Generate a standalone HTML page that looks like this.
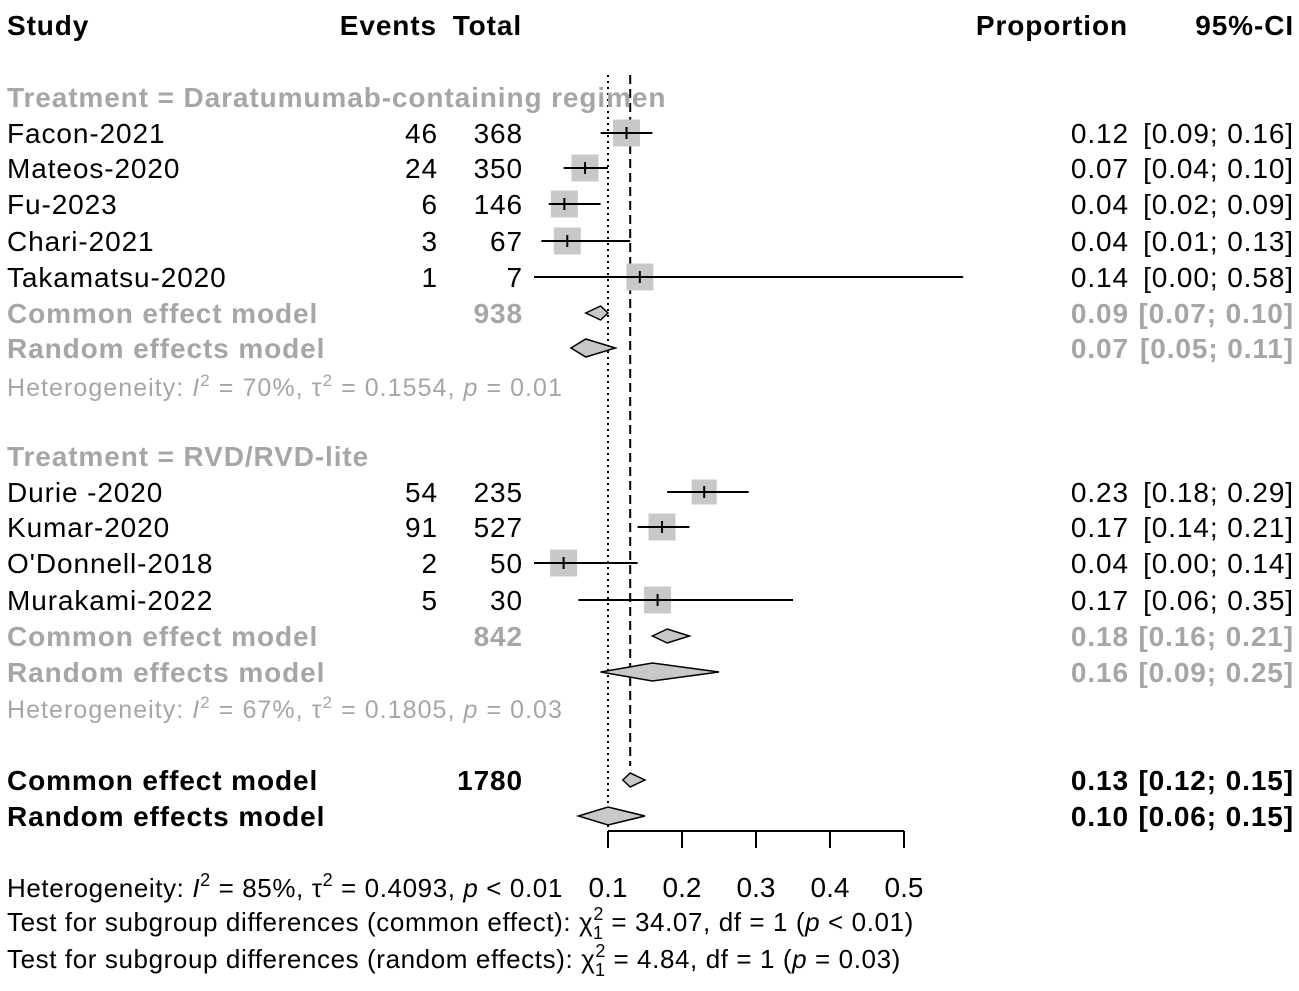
<!DOCTYPE html>
<html><head><meta charset="utf-8"><style>
body{margin:0;background:#fff}
svg{display:block;font-family:"Liberation Sans",Arial,sans-serif}
</style></head><body>
<svg width="1299" height="991" viewBox="0 0 1299 991">
<g id="hdr" font-size="28" font-weight="bold" fill="#000" letter-spacing="0.9">
<text x="7" y="35">Study</text>
<text x="437" y="35" text-anchor="end">Events</text>
<text x="522" y="35" text-anchor="end">Total</text>
<text x="1128" y="35" text-anchor="end">Proportion</text>
<text x="1294" y="35" text-anchor="end">95%-CI</text>
</g>
<g id="lines"></g>
<g id="marks"></g>
<g id="txt" letter-spacing="0.9"></g>
<g id="axis"></g>
<g font-size="26" fill="#000" letter-spacing="0.6">
<text x="7" y="897">Heterogeneity: <tspan font-style="italic">I</tspan><tspan dy="-11" font-size="18">2</tspan><tspan dy="11"> = 85%, τ</tspan><tspan dy="-11" font-size="18">2</tspan><tspan dy="11"> = 0.4093, </tspan><tspan font-style="italic">p</tspan> &lt; 0.01</text>
<text x="7" y="931">Test for subgroup differences (common effect): χ<tspan dy="-11" font-size="18">2</tspan><tspan dx="-11" dy="19" font-size="18">1</tspan><tspan dy="-8"> = 34.07, df = 1 (</tspan><tspan font-style="italic">p</tspan> &lt; 0.01)</text>
<text x="7" y="968">Test for subgroup differences (random effects): χ<tspan dy="-11" font-size="18">2</tspan><tspan dx="-11" dy="19" font-size="18">1</tspan><tspan dy="-8"> = 4.84, df = 1 (</tspan><tspan font-style="italic">p</tspan> = 0.03)</text>
</g>
</svg>
<script>
const studies=["Facon-2021","Mateos-2020","Fu-2023","Chari-2021","Takamatsu-2020","Durie -2020","Kumar-2020","O'Donnell-2018","Murakami-2022"];
const events=[46,24,6,3,1,54,91,2,5];
const totals=[368,350,146,67,7,235,527,50,30];
const props=[0.125,0.069,0.041,0.045,0.143,0.23,0.173,0.04,0.167];
const lows=[0.09,0.04,0.02,0.01,0.00,0.18,0.14,0.00,0.06];
const highs=[0.16,0.10,0.09,0.13,0.58,0.29,0.21,0.14,0.35];
const propLabels=["0.12","0.07","0.04","0.04","0.14","0.23","0.17","0.04","0.17"];
const ciLabels=["[0.09; 0.16]","[0.04; 0.10]","[0.02; 0.09]","[0.01; 0.13]","[0.00; 0.58]","[0.18; 0.29]","[0.14; 0.21]","[0.00; 0.14]","[0.06; 0.35]"];
const studyRows=[133,168,204,241,277,492,527,563,600];
const modelNames=["Common effect model","Random effects model","Common effect model","Random effects model","Common effect model","Random effects model"];
const modelTotals=["938","","842","","1780",""];
const modelEst=[0.09,0.07,0.18,0.16,0.13,0.10];
const modelLow=[0.07,0.05,0.16,0.09,0.12,0.06];
const modelHigh=[0.10,0.11,0.21,0.25,0.15,0.15];
const modelPropLabels=["0.09","0.07","0.18","0.16","0.13","0.10"];
const modelCiLabels=["[0.07; 0.10]","[0.05; 0.11]","[0.16; 0.21]","[0.09; 0.25]","[0.12; 0.15]","[0.06; 0.15]"];
const modelRows=[313,348,636,672,780,816];
const ticks=[0.1,0.2,0.3,0.4,0.5];
const commonEst=0.13, nullVal=0.1;
const NS="http://www.w3.org/2000/svg";
const x=p=>608+(p-0.1)*740;
function mk(tag,parent,attrs){const e=document.createElementNS(NS,tag);for(const k in attrs)e.setAttribute(k,attrs[k]);document.getElementById(parent).appendChild(e);return e;}
function txt(parent,s,xx,y,anchor,opts){const t=mk("text",parent,Object.assign({x:xx,y:y,"text-anchor":anchor,"font-size":28},opts||{}));t.textContent=s;return t;}
let l=mk("line","lines",{x1:x(nullVal),x2:x(nullVal),y1:75,y2:831,stroke:"#000","stroke-width":2,"stroke-dasharray":"2,4"});


l=mk("line","lines",{x1:x(commonEst),x2:x(commonEst),y1:75,y2:766,stroke:"#000","stroke-width":2,"stroke-dasharray":"9,5"});


let g=txt("txt","Treatment = Daratumumab-containing regimen",7,107,"start",{fill:"#a6a6a6","font-weight":"bold"});


g=txt("txt","Treatment = RVD/RVD-lite",7,466,"start",{fill:"#a6a6a6","font-weight":"bold"});


studies.forEach((s,i)=>{
 const y=studyRows[i], b=y+10;
 let t=txt("txt",s,7,b,"start");  
 t=txt("txt",String(events[i]),438,b,"end");  
 t=txt("txt",String(totals[i]),523,b,"end");  
 t=txt("txt",propLabels[i],1129,b,"end");  
 t=txt("txt",ciLabels[i],1294,b,"end");  
 const sz=i===5?25:27;
 const r=mk("rect","marks",{x:x(props[i])-sz/2,y:y-sz/2,width:sz,height:sz,fill:"#c8c8c8"});
 
 
 const ln=mk("line","marks",{x1:x(lows[i]),x2:x(highs[i]),y1:y,y2:y,stroke:"#000","stroke-width":2});
 
 
 const tk=mk("line","marks",{x1:x(props[i]),x2:x(props[i]),y1:y-6,y2:y+6,stroke:"#000","stroke-width":2});
 
 
});
modelNames.forEach((n,i)=>{
 const y=modelRows[i], b=y+10, overall=i>=4;
 const opts={"font-weight":"bold",fill:overall?"#000":"#a6a6a6"};
 let t=txt("txt",n,7,b,"start",opts);  
 if(modelTotals[i]){t=txt("txt",modelTotals[i],523,b,"end",opts);  }
 t=txt("txt",modelPropLabels[i],1129,b,"end",opts);  
 t=txt("txt",modelCiLabels[i],1294,b,"end",opts);  
 const h=(i%2===0)?7:9;
 const d=mk("polygon","marks",{points:`${x(modelLow[i])},${y} ${x(modelEst[i])},${y-h} ${x(modelHigh[i])},${y} ${x(modelEst[i])},${y+h}`,fill:"#c8c8c8",stroke:"#000","stroke-width":1.5});
 
 
});
const hets=[["Heterogeneity: ","70%","0.1554","= 0.01",396],["Heterogeneity: ","67%","0.1805","= 0.03",718]];
hets.forEach(h=>{
 const t=mk("text","txt",{x:7,y:h[4],"font-size":25,fill:"#a6a6a6","letter-spacing":"1.05"});
 t.innerHTML=`${h[0]}<tspan font-style="italic">I</tspan><tspan dy="-10" font-size="17">2</tspan><tspan dy="10"> = ${h[1]}, τ</tspan><tspan dy="-10" font-size="17">2</tspan><tspan dy="10"> = ${h[2]}, </tspan><tspan font-style="italic">p</tspan> ${h[3]}`;
 
 
});
const ax=mk("line","axis",{x1:x(ticks[0]),x2:x(ticks[ticks.length-1]),y1:831,y2:831,stroke:"#000","stroke-width":2});


ticks.forEach(v=>{
 const tk=mk("line","axis",{x1:x(v),x2:x(v),y1:831,y2:848,stroke:"#000","stroke-width":2});
 
 
 const t=txt("axis",String(v),x(v),897,"middle",{"font-size":28});
 
 
});
</script>
</body></html>
